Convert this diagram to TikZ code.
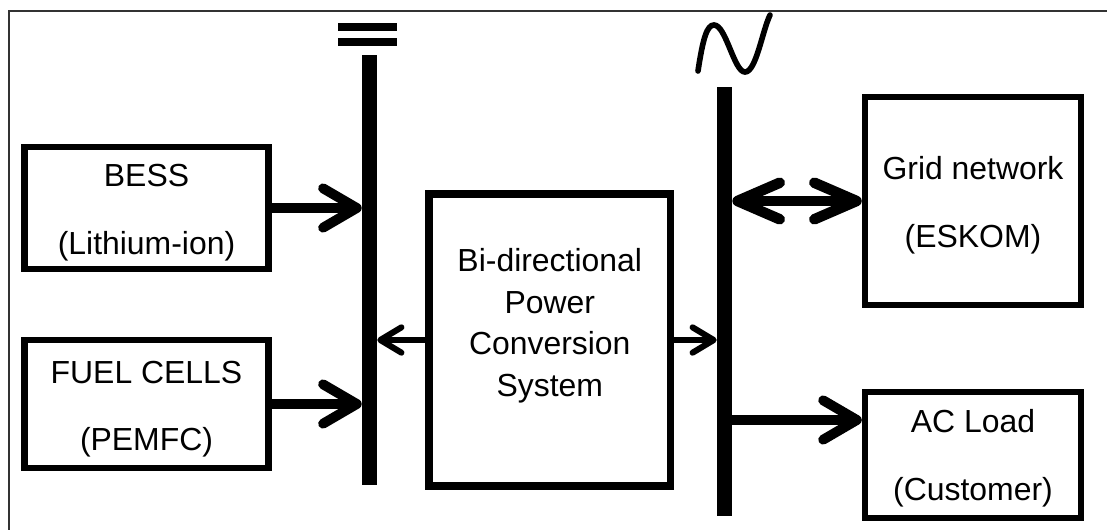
\documentclass[tikz,border=0pt]{standalone}
\usepackage{fontspec}
\setmainfont{Liberation Sans}
\usetikzlibrary{arrows.meta}

\begin{document}
\begin{tikzpicture}[x=0.025cm, y=-0.025cm,
		box/.style={draw, line width=4.5pt, inner sep=0pt},
		boxtext/.style={align=center, font=\fontsize{22.7}{48}\selectfont, yshift=-0.2cm},
		bus/.style={fill=black, inner sep=0pt, minimum width=0.375cm},
		bigarrow/.style={line width=7pt, -{Straight Barb[length=24pt, width=28pt, line cap=round, line join=round]}},
		thinarrow/.style={line width=4.3pt, -{Straight Barb[length=15pt, width=18pt, line cap=round, line join=round]}},
		gridarrow/.style={line width=7.5pt, {Straight Barb[length=30pt, width=26pt, line cap=round, line join=round]}-{Straight Barb[length=30pt, width=26pt, line cap=round, line join=round]}}]
	\useasboundingbox (0,0) rectangle (1107,529);
	\clip (0,0) rectangle (1107,529);
	% outer frame
	\draw[line width=1.5pt, black!80] (9,11) rectangle (1130,560);

	% sources
	\node[box, minimum width=6.1cm, minimum height=3.05cm,
		label={[boxtext, yshift=0.08cm]center:BESS\\(Lithium-ion)}] (bess) at (146.5,208) {};
	\node[box, minimum width=6.1cm, minimum height=3.2cm,
		label={[boxtext, yshift=0.07cm]center:FUEL CELLS\\(PEMFC)}] (fuel) at (146.5,404) {};

	% buses
	\node[bus, minimum height=10.75cm] (dcbus) at (369.5,270) {};
	\node[bus, minimum height=10.725cm] (acbus) at (724.5,301.5) {};
	\fill (338,22.7) rectangle (397,30.7);
	\fill (338,38.3) rectangle (397,46);
	\draw[line width=4pt, line cap=round] (698,71) .. controls (703,38) and (707,25) .. (714,25)
		.. controls (726,25) and (734,72) .. (745,72)
		.. controls (756,72) and (762,32) .. (770,15);

	% converter
	\node[box, line width=5.5pt, minimum width=6.04cm, minimum height=7.3cm,
		label={[align=center, font=\fontsize{22.7}{29.5}\selectfont, yshift=0.36cm]center:Bi-directional\\Power\\Conversion\\System}] (pcs) at (549.75,340) {};

	% grid side
	\node[box, minimum width=5.4cm, minimum height=5.2cm,
		label={[boxtext, yshift=0.1cm]center:Grid network\\(ESKOM)}] (grid) at (973,201) {};
	\node[box, minimum width=5.4cm, minimum height=3.15cm,
		label={[boxtext, yshift=0.12cm]center:AC Load\\(Customer)}] (acload) at (973,455) {};
	\coordinate (acout) at ([yshift=0.875cm]acload.west);

	% power flows
	\draw[bigarrow] (bess.east) -- (bess.east -| dcbus.west);
	\draw[bigarrow] (fuel.east) -- (fuel.east -| dcbus.west);
	\draw[thinarrow] (pcs.west) -- (pcs.west -| dcbus.east);
	\draw[thinarrow] (pcs.east) -- (pcs.east -| acbus.west);
	\draw[gridarrow] (acbus.east |- grid.west) -- (grid.west);
	\draw[bigarrow] (acbus.east |- acout) -- (acout);
\end{tikzpicture}
\end{document}
